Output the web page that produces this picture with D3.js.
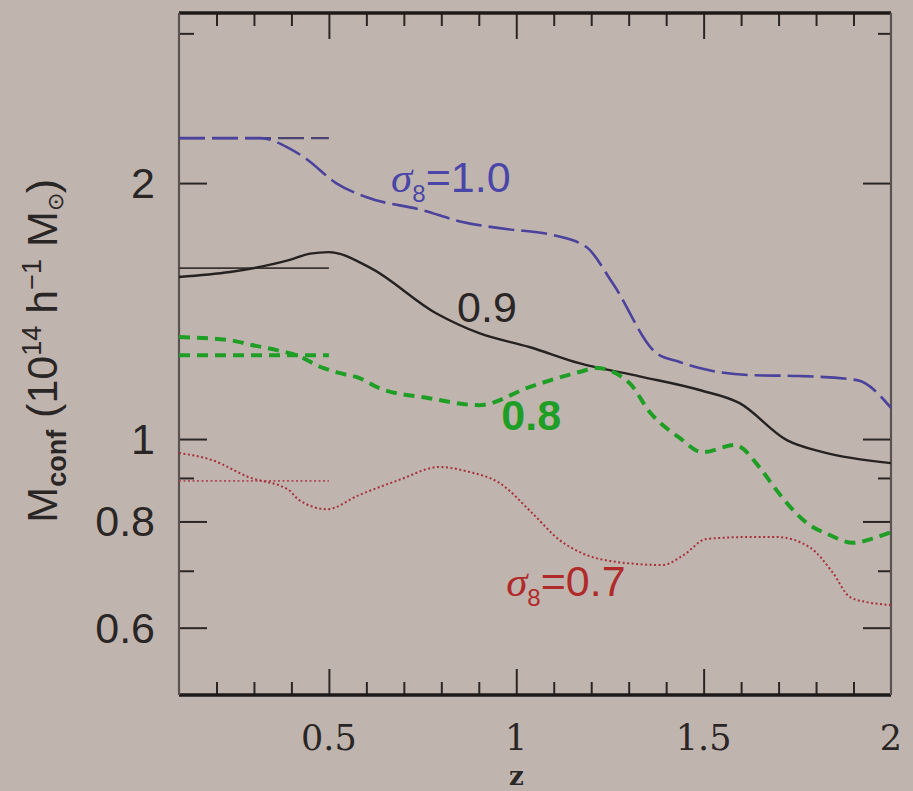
<!DOCTYPE html>
<html>
<head>
<meta charset="utf-8">
<script src="https://cdn.jsdelivr.net/npm/d3@7"></script>
<style>
  body { margin: 0; background: #bfb5ae; }
  svg { display: block; }
</style>
</head>
<body>
<div id="chart"></div>
<script>
// sigma8 = 1.0 (blue long dash)
const zBlue = [0.1, 0.318, 0.393, 0.44, 0.519, 0.599, 0.749, 0.856, 0.973, 1.096, 1.187, 1.257, 1.374, 1.436, 1.489, 1.623, 1.757, 1.909, 2.0]
const mBlue = [2.259, 2.259, 2.199, 2.135, 2.0, 1.926, 1.859, 1.80, 1.766, 1.738, 1.682, 1.526, 1.262, 1.232, 1.212, 1.189, 1.186, 1.173, 1.088]

// sigma8 = 0.9 (black solid)
const zBlack = [0.1, 0.236, 0.393, 0.45, 0.5, 0.607, 0.786, 0.901, 1.035, 1.168, 1.329, 1.489, 1.596, 1.722, 1.818, 2.0]
const mBlack = [1.551, 1.572, 1.623, 1.652, 1.659, 1.593, 1.406, 1.332, 1.283, 1.228, 1.185, 1.142, 1.102, 0.997, 0.965, 0.937]

// sigma8 = 0.8 (green dashed)
const zGreen = [0.1, 0.236, 0.294, 0.358, 0.42, 0.473, 0.527, 0.58, 0.634, 0.767, 0.901, 1.035, 1.168, 1.214, 1.302, 1.356, 1.436, 1.497, 1.583, 1.65, 1.684, 1.722, 1.775, 1.837, 1.898, 1.963, 2.0]
const mGreen = [1.318, 1.307, 1.29, 1.273, 1.252, 1.218, 1.196, 1.18, 1.148, 1.117, 1.096, 1.151, 1.199, 1.212, 1.164, 1.076, 1.003, 0.965, 0.984, 0.925, 0.883, 0.841, 0.797, 0.771, 0.755, 0.767, 0.777]

// sigma8 = 0.7 (red dotted)
const zRed = [0.1, 0.187, 0.286, 0.393, 0.42, 0.495, 0.58, 0.687, 0.794, 0.874, 0.955, 1.043, 1.115, 1.176, 1.267, 1.39, 1.444, 1.508, 1.623, 1.695, 1.783, 1.845, 1.89, 1.936, 2.0]
const mRed = [0.963, 0.945, 0.902, 0.871, 0.848, 0.827, 0.859, 0.895, 0.927, 0.915, 0.888, 0.818, 0.761, 0.734, 0.717, 0.711, 0.729, 0.763, 0.767, 0.767, 0.746, 0.696, 0.652, 0.643, 0.638]

// low-z reference levels, drawn from z=0.1 to z=0.5
const zRef = [0.1, 0.5]
const refLevels = [2.259, 1.589, 1.255, 0.893]

const xMajor = [0.5, 1, 1.5]
const xMinor = [0.2, 0.3, 0.4, 0.6, 0.7, 0.8, 0.9, 1.1, 1.2, 1.3, 1.4, 1.6, 1.7, 1.8, 1.9]
const xLabels = [0.5, 1, 1.5, 2]
const yMajor = [0.6, 0.8, 1, 2]
const yMinor = [0.7, 0.9, 3]
const yLabels = [0.6, 0.8, 1, 2]

const W = 913, H = 791
const m = { top: 13, right: 22, bottom: 96, left: 179 }

const x = d3.scaleLinear().domain([0.1, 2]).range([m.left, W - m.right])
const y = d3.scaleLog().domain([0.5, 3.17]).range([H - m.bottom, m.top])

const svg = d3.select('#chart').append('svg')
  .attr('width', W).attr('height', H)

svg.append('rect').attr('width', W).attr('height', H).attr('fill', '#c0b5ae')

// ticks, all pointing inward
function axisG(axis, tr) {
  const g = svg.append('g').attr('transform', tr).call(axis)
  g.select('.domain').remove()
  g.selectAll('.tick line').attr('stroke', '#2b2626').attr('stroke-width', 2)
  g.selectAll('.tick text').remove()
  return g
}
axisG(d3.axisBottom(x).tickValues(xMajor).tickSize(-26), `translate(0,${H - m.bottom})`)
axisG(d3.axisBottom(x).tickValues(xMinor).tickSize(-13), `translate(0,${H - m.bottom})`)
axisG(d3.axisTop(x).tickValues(xMajor).tickSize(-26), `translate(0,${m.top})`)
axisG(d3.axisTop(x).tickValues(xMinor).tickSize(-13), `translate(0,${m.top})`)
axisG(d3.axisLeft(y).tickValues(yMajor).tickSize(-28), `translate(${m.left},0)`)
axisG(d3.axisLeft(y).tickValues(yMinor).tickSize(-15), `translate(${m.left},0)`)
axisG(d3.axisRight(y).tickValues(yMajor).tickSize(-28), `translate(${W - m.right},0)`)
axisG(d3.axisRight(y).tickValues(yMinor).tickSize(-13), `translate(${W - m.right},0)`)

// frame
const x0 = x.range()[0], x1 = x.range()[1], y0 = y.range()[0], y1 = y.range()[1]
svg.append('line').attr('x1', x0).attr('x2', x1).attr('y1', y0).attr('y2', y0)
  .attr('stroke', '#1e1a1a').attr('stroke-width', 3.5)
svg.append('line').attr('x1', x0).attr('x2', x1).attr('y1', y1).attr('y2', y1)
  .attr('stroke', '#1e1a1a').attr('stroke-width', 3.5)
svg.append('line').attr('x1', x0).attr('x2', x0).attr('y1', y0).attr('y2', y1)
  .attr('stroke', '#5a5252').attr('stroke-width', 2.2)
svg.append('line').attr('x1', x1).attr('x2', x1).attr('y1', y0).attr('y2', y1)
  .attr('stroke', '#5a5252').attr('stroke-width', 2.2)

// tick labels
svg.selectAll('.xlab').data(xLabels).join('text')
  .attr('class', 'xlab')
  .attr('x', d => x(d))
  .attr('y', H - m.bottom + 55)
  .attr('text-anchor', 'middle')
  .attr('font-family', 'DejaVu Serif, serif')
  .attr('font-size', 35)
  .attr('fill', '#2b2626')
  .text(d => d)

svg.selectAll('.ylab').data(yLabels).join('text')
  .attr('class', 'ylab')
  .attr('x', m.left - 24)
  .attr('y', d => y(d) + 15)
  .attr('text-anchor', 'end')
  .attr('font-family', 'Liberation Sans, Arial, sans-serif')
  .attr('font-size', 43)
  .attr('fill', '#2b2626')
  .text(d => d)

// axis titles
svg.append('text')
  .attr('x', x(1)).attr('y', H - 6)
  .attr('text-anchor', 'middle')
  .attr('font-family', 'DejaVu Serif, serif')
  .attr('font-weight', 'bold')
  .attr('font-size', 26)
  .attr('fill', '#2b2626')
  .text('z')

const yt = svg.append('text')
  .attr('transform', `translate(57,${y(1.27)}) rotate(-90)`)
  .attr('text-anchor', 'middle')
  .attr('font-family', 'Liberation Sans, Arial, sans-serif')
  .attr('font-size', 43)
  .attr('fill', '#2b2626')
yt.append('tspan').text('M')
yt.append('tspan').attr('font-size', 27).attr('font-weight', 'bold').attr('dy', 9).text('conf')
yt.append('tspan').attr('dy', -9).text(' (10')
yt.append('tspan').attr('font-size', 27).attr('dy', -16).text('14')
yt.append('tspan').attr('dy', 16).text(' h')
yt.append('tspan').attr('font-size', 27).attr('dy', -16).text('\u22121')
yt.append('tspan').attr('dy', 16).text(' M')
yt.append('tspan').attr('font-size', 22).attr('dy', 6).text('\u2299')
yt.append('tspan').attr('dy', -6).text(')')

// curves
const line = d3.line().x(d => x(d[0])).y(d => y(d[1])).curve(d3.curveMonotoneX)
const series = [
  { z: zBlue, m: mBlue, color: '#4a429c', width: 2.6, dash: '26,7' },
  { z: zBlack, m: mBlack, color: '#262222', width: 2.4, dash: null },
  { z: zGreen, m: mGreen, color: '#1f9e26', width: 4, dash: '11,7' },
  { z: zRed, m: mRed, color: '#a8303c', width: 2, dash: '2,2.5' }
]
const refStyle = [
  { color: '#4a4470', width: 2.4, dash: '26,7' },
  { color: '#3a3434', width: 1.8, dash: null },
  { color: '#1f9e26', width: 4, dash: '11,7' },
  { color: '#b04a58', width: 1.8, dash: '2,2.5' }
]

refLevels.forEach((lv, i) => {
  svg.append('path')
    .datum(zRef.map(z => [z, lv]))
    .attr('d', line)
    .attr('fill', 'none')
    .attr('stroke', refStyle[i].color)
    .attr('stroke-width', refStyle[i].width)
    .attr('stroke-dasharray', refStyle[i].dash)
})

series.forEach(s => {
  svg.append('path')
    .datum(s.z.map((z, i) => [z, s.m[i]]))
    .attr('d', line)
    .attr('fill', 'none')
    .attr('stroke', s.color)
    .attr('stroke-width', s.width)
    .attr('stroke-dasharray', s.dash)
})

// curve labels
function sigmaLabel(z, mv, value, color) {
  const t = svg.append('text')
    .attr('x', x(z)).attr('y', y(mv))
    .attr('font-family', 'Liberation Sans, Arial, sans-serif')
    .attr('font-size', 43)
    .attr('fill', color)
  t.append('tspan').attr('font-family', 'Liberation Serif, serif').attr('font-style', 'italic').text('\u03c3')
  t.append('tspan').attr('font-size', 24).attr('dy', 10).text('8')
  t.append('tspan').attr('dy', -10).text('=' + value)
}
sigmaLabel(0.666, 1.952, '1.0', '#4a45a8')
sigmaLabel(0.973, 0.654, '0.7', '#b02a2a')

svg.append('text')
  .attr('x', x(0.842)).attr('y', y(1.373))
  .attr('font-family', 'Liberation Sans, Arial, sans-serif')
  .attr('font-size', 43)
  .attr('fill', '#2b2626')
  .text('0.9')

svg.append('text')
  .attr('x', x(0.96)).attr('y', y(1.025))
  .attr('font-family', 'Liberation Sans, Arial, sans-serif')
  .attr('font-size', 43)
  .attr('font-weight', 'bold')
  .attr('fill', '#1f9e26')
  .text('0.8')
</script>
</body>
</html>
